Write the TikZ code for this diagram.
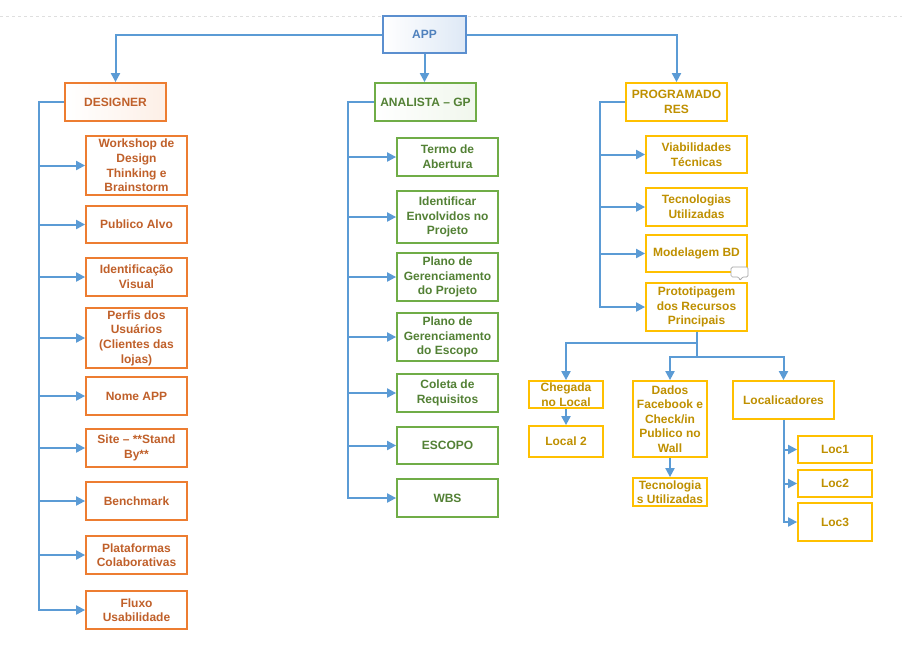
\documentclass[tikz,border=0pt]{standalone}
\usepackage{fontspec}
\setmainfont{Liberation Sans}
\usetikzlibrary{arrows.meta}
\definecolor{lnblue}{HTML}{5B9BD5}
\definecolor{orbrd}{HTML}{ED7D31}
\definecolor{ortxt}{HTML}{C0602A}
\definecolor{grbrd}{HTML}{70AD47}
\definecolor{grtxt}{HTML}{538135}
\definecolor{yebrd}{HTML}{FFC000}
\definecolor{yetxt}{HTML}{BF9000}
\definecolor{apbrd}{HTML}{5B8FCF}
\definecolor{aptxt}{HTML}{4F81BD}
\tikzset{
  base/.style={rectangle, inner sep=0pt, align=center, line width=1.8pt,
    font=\fontsize{12}{14.6}\selectfont\bfseries},
  obox/.style={base, draw=orbrd, text=ortxt, fill=white},
  gbox/.style={base, draw=grbrd, text=grtxt, fill=white},
  ybox/.style={base, draw=yebrd, text=yetxt, fill=white},
  ohead/.style={obox, left color=white, right color=orbrd!12},
  ghead/.style={gbox, left color=white, right color=grbrd!10},
  yhead/.style={ybox, fill=white},
  apphead/.style={base, draw=apbrd, text=aptxt, left color=white, right color=apbrd!20},
  conn/.style={draw=lnblue, line width=2pt},
  arr/.style={conn, -{Triangle[length=9pt,width=9pt]}},
  wb/.style={minimum width=101, minimum height=#1},
  nb/.style={minimum width=74, minimum height=#1},
}
\begin{document}
\begin{tikzpicture}[x=1pt,y=-1pt]
\useasboundingbox[fill=white] (0,0) rectangle (902,657);
\draw[gray!25, dashed, line width=0.6pt] (0,16) -- (902,16);

% top
\node[apphead, minimum width=83, minimum height=37] (app) at (424.5,34.5) {APP};
\node[ohead, wb=38] (des) at (115.5,102) {DESIGNER};
\node[ghead, wb=38] (ana) at (425.5,102) {ANALISTA -- GP};
\node[yhead, wb=38] (prog) at (676.5,102) {PROGRAMADO\\RES};

\draw[arr] (app.west) -| (des.north);
\draw[arr] (app.south) -- (app.south |- ana.north);
\draw[arr] (app.east) -| (prog.north);

% designer column
\node[obox, wb=59] (d1) at (136.5,165.5) {Workshop de\\Design\\Thinking e\\Brainstorm};
\node[obox, wb=37] (d2) at (136.5,224.5) {Publico Alvo};
\node[obox, wb=38] (d3) at (136.5,277) {Identificação\\Visual};
\node[obox, wb=60] (d4) at (136.5,338) {Perfis dos\\Usuários\\(Clientes das\\lojas)};
\node[obox, wb=38] (d5) at (136.5,396) {Nome APP};
\node[obox, wb=38] (d6) at (136.5,448) {Site -- **Stand\\By**};
\node[obox, wb=38] (d7) at (136.5,501) {Benchmark};
\node[obox, wb=38] (d8) at (136.5,555) {Plataformas\\Colaborativas};
\node[obox, wb=38] (d9) at (136.5,610) {Fluxo\\Usabilidade};
\coordinate (tD) at (39,102);
\draw[arr] (des.west) -- (tD) |- (d9.west);
\foreach \n in {d1,d2,d3,d4,d5,d6,d7,d8}
  \draw[arr] (tD |- \n.west) -- (\n.west);

% analista column
\node[gbox, wb=38] (a1) at (447.5,157) {Termo de\\Abertura};
\node[gbox, wb=52] (a2) at (447.5,217) {Identificar\\Envolvidos no\\Projeto};
\node[gbox, wb=48] (a3) at (447.5,277) {Plano de\\Gerenciamento\\do Projeto};
\node[gbox, wb=48] (a4) at (447.5,337) {Plano de\\Gerenciamento\\do Escopo};
\node[gbox, wb=38] (a5) at (447.5,393) {Coleta de\\Requisitos};
\node[gbox, wb=37] (a6) at (447.5,445.5) {ESCOPO};
\node[gbox, wb=38] (a7) at (447.5,498) {WBS};
\coordinate (tA) at (348,102);
\draw[arr] (ana.west) -- (tA) |- (a7.west);
\foreach \n in {a1,a2,a3,a4,a5,a6}
  \draw[arr] (tA |- \n.west) -- (\n.west);

% programadores column
\node[ybox, wb=37] (p1) at (696.5,154.5) {Viabilidades\\Técnicas};
\node[ybox, wb=38] (p2) at (696.5,207) {Tecnologias\\Utilizadas};
\node[ybox, wb=37] (p3) at (696.5,253.5) {Modelagem BD};
\node[ybox, wb=48] (p4) at (696.5,307) {Prototipagem\\dos Recursos\\Principais};
\coordinate (tP) at (600,102);
\draw[arr] (prog.west) -- (tP) |- (p4.west);
\foreach \n in {p1,p2,p3}
  \draw[arr] (tP |- \n.west) -- (\n.west);

% comment bubble
\draw[gray!70, fill=white, line width=0.7pt, rounded corners=1.5pt]
  (731,267) -- (748,267) -- (748,277) -- (742,277) -- (740,281) -- (739,277) -- (731,277) -- cycle;

% bottom branches
\node[ybox, nb=27] (ch) at (566,394.5) {Chegada\\no Local};
\node[ybox, nb=31] (l2) at (566,441.5) {Local 2};
\node[ybox, nb=76] (da) at (670,419) {Dados\\Facebook e\\Check/in\\Publico no\\Wall};
\node[ybox, nb=28] (tc) at (670,492) {Tecnologia\\s Utilizadas};
\node[ybox, wb=38] (lo) at (783.5,400) {Localicadores};
\node[ybox, nb=27] (lc1) at (835,449.5) {Loc1};
\node[ybox, nb=27] (lc2) at (835,483.5) {Loc2};
\node[ybox, nb=38] (lc3) at (835,522) {Loc3};

\draw[arr] (p4.south) -- ++(0,11) -| (ch.north);
\draw[arr] (p4.south) -- ++(0,25) -| (da.north);
\draw[arr] (p4.south) -- ++(0,25) -| (lo.north);
\draw[arr] (ch.south) -- (l2.north);
\draw[arr] (da.south) -- (tc.north);
\coordinate (tL) at (lo.south);
\draw[arr] (lo.south) |- (lc3.west);
\foreach \n in {lc1,lc2}
  \draw[arr] (tL |- \n.west) -- (\n.west);
\end{tikzpicture}
\end{document}
